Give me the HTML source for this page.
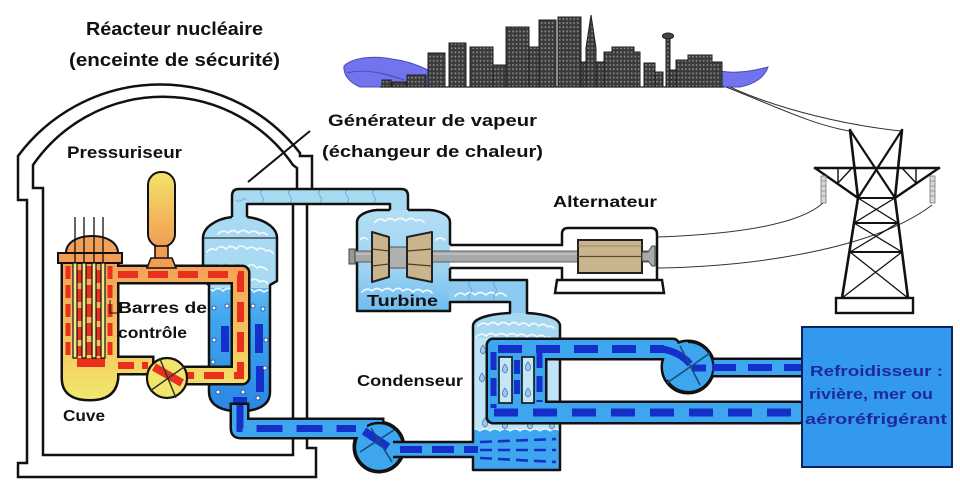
<!DOCTYPE html>
<html><head><meta charset="utf-8"><style>
html,body{margin:0;padding:0;background:#fff;overflow:hidden}
svg{display:block}
text{font-family:"Liberation Sans",sans-serif;font-weight:bold;fill:#111}
</style></head><body>
<svg width="960" height="496" viewBox="0 0 960 496" xmlns="http://www.w3.org/2000/svg">
<defs>
<pattern id="win" width="3.6" height="4.2" patternUnits="userSpaceOnUse">
<rect width="3.6" height="4.2" fill="#3a3a3a"/><rect x="1" y="1.1" width="1.5" height="1.8" fill="#8e8e8e"/>
</pattern>
<linearGradient id="gP" x1="0" y1="0" x2="0" y2="1"><stop offset="0" stop-color="#f2e468"/><stop offset="1" stop-color="#f29c54"/></linearGradient>
<linearGradient id="gL" gradientUnits="userSpaceOnUse" x1="0" y1="262" x2="0" y2="400"><stop offset="0" stop-color="#f3a058"/><stop offset="0.6" stop-color="#f4c860"/><stop offset="1" stop-color="#f2e86c"/></linearGradient>
<linearGradient id="gS" gradientUnits="userSpaceOnUse" x1="0" y1="288" x2="0" y2="412"><stop offset="0" stop-color="#62baf2"/><stop offset="0.25" stop-color="#40a6ee"/><stop offset="1" stop-color="#2a86e4"/></linearGradient>
<linearGradient id="gT" gradientUnits="userSpaceOnUse" x1="0" y1="210" x2="0" y2="312"><stop offset="0" stop-color="#b4def4"/><stop offset="0.6" stop-color="#9cd2f2"/><stop offset="1" stop-color="#6cbcf0"/></linearGradient>
<clipPath id="cSG"><path d="M232,217 C215,219 203,228 203,238 L203,281 L209,285 L209,392 Q209,408 232,411 L247,411 Q270,408 270,392 L270,285 L277,281 L277,238 C277,228 265,219 247,217 Z"/></clipPath>
<clipPath id="cC"><path d="M510,313 C490,314 473,318 473,326 L473,470 L560,470 L560,326 C560,318 545,314 527,313 Z"/></clipPath>
</defs>
<rect width="960" height="496" fill="#fff"/>

<!-- City -->
<path d="M344,66 C352,58 372,55 392,59 C408,61 420,66 428,70 L428,87 L360,87 C350,83 343,75 344,66 Z" fill="#7373ee" stroke="#4a4ab8" stroke-width="1"/>
<path d="M347,73 C362,69 382,72 404,80" fill="none" stroke="#4a4ab8" stroke-width="1"/>
<path d="M720,71 C736,74 752,71 768,67 C765,76 756,84 740,87 L720,87 Z" fill="#7373ee" stroke="#4a4ab8" stroke-width="1"/>
<g fill="url(#win)" stroke="#1e1e1e" stroke-width="1">
<rect x="382" y="80" width="9" height="7"/>
<rect x="392" y="82" width="14" height="5"/>
<rect x="407" y="75" width="19" height="12"/>
<rect x="428" y="53" width="17" height="34"/>
<rect x="449" y="43" width="17" height="44"/>
<rect x="470" y="47" width="23" height="40"/>
<rect x="493" y="65" width="13" height="22"/>
<rect x="506" y="27" width="23" height="60"/>
<rect x="529" y="47" width="10" height="40"/>
<rect x="539" y="20" width="17" height="67"/>
<rect x="558" y="17" width="23" height="70"/>
<rect x="581" y="62" width="5" height="25"/>
<path d="M586,87 L586,48 L591,15 L596,48 L596,87 Z"/>
<rect x="596" y="62" width="8" height="25"/>
<path d="M604,87 L604,52 L612,52 L612,47 L634,47 L634,52 L640,52 L640,87 Z"/>
<rect x="644" y="63" width="11" height="24"/>
<rect x="655" y="72" width="8" height="15"/>
<rect x="666" y="38" width="4" height="49"/>
<rect x="670" y="70" width="6" height="17"/>
<path d="M676,87 L676,60 L688,60 L688,55 L712,55 L712,62 L722,62 L722,87 Z"/>
</g>
<ellipse cx="668" cy="36" rx="5.5" ry="3" fill="#444" stroke="#1e1e1e" stroke-width="1"/>
<line x1="380" y1="87" x2="724" y2="87" stroke="#222" stroke-width="1.2"/>

<!-- Wires -->
<g fill="none" stroke="#333" stroke-width="1">
<path d="M726,87 C770,104 810,124 849,131"/>
<path d="M730,87 C780,110 850,126 902,131"/>
<path d="M658,237 C740,234 800,224 823,203"/>
<path d="M658,268 C770,266 880,245 932,205"/>
</g>

<!-- Tower -->
<g stroke="#111" fill="none" stroke-linecap="round">
<path d="M850,130 L858,198 L842,298 M902,130 L895,198 L908,298" stroke-width="2.6"/>
<path d="M850,130 L895,198 M902,130 L858,198" stroke-width="2.2"/>
<path d="M815,168 L939,168" stroke-width="2.6"/>
<path d="M815,168 L858,198 M939,168 L895,198" stroke-width="2.4"/>
<path d="M838,168 L838,183 M916,168 L916,183 M838,183 L852,168 M916,183 L902,168" stroke-width="1.4"/>
<path d="M858,198 L895,198 M854,223 L898,223 M850,252 L902,252" stroke-width="2"/>
<path d="M858,198 L898,223 M895,198 L854,223 M854,223 L902,252 M898,223 L850,252 M850,252 L908,298 M902,252 L842,298" stroke-width="1.3"/>
<rect x="836" y="298" width="77" height="15" stroke-width="2.4" fill="#fff"/>
</g>
<g fill="#d8d8d8" stroke="#777" stroke-width="0.8">
<rect x="821" y="176" width="5" height="27"/>
<rect x="930" y="176" width="5" height="27"/>
</g>
<g stroke="#888" stroke-width="0.7">
<path d="M821,181 H826 M821,186 H826 M821,191 H826 M821,196 H826 M930,181 H935 M930,186 H935 M930,191 H935 M930,196 H935"/>
</g>

<!-- Containment -->
<g fill="none" stroke="#111" stroke-width="2.5">
<path d="M312,188 L312,156 L300,156 L300,153 A177,177 0 0 0 18,156 L18,200 L27,200 L27,463 L18,463 L18,477 L316,477 L316,448 L307,448 L307,204"/>
<path d="M297,188 L297,168 L293,165 A158,158 0 0 0 33,165 L33,188 L43,188 L43,455 L293,455 L293,204"/>
</g>
<path d="M248,182 L310,131" stroke="#111" stroke-width="2" fill="none"/>

<!-- Steam system fills -->
<path d="M232,189 L408,189 L408,214 L390,214 L390,204 L247,204 L247,220 L232,220 Z" fill="#a8daf2"/>
<path d="M377,210 L430,210 C442,211 450,216 450,222 L450,311 L357,311 L357,222 C357,216 365,211 377,210 Z" fill="url(#gT)"/>
<path d="M449,280 L527,280 L527,316 L510,316 L510,302 L449,302 Z" fill="#8ccaf0"/>
<g clip-path="url(#cC)">
<rect x="470" y="305" width="95" height="170" fill="#c0e5f6"/>
<rect x="470" y="305" width="95" height="33" fill="#a6d8f2"/>
<path d="M470,431 q5,-4 10,0 q5,-4 10,0 q5,-4 10,0 q5,-4 10,0 q5,-4 10,0 q5,-4 10,0 q5,-4 10,0 q5,-4 10,0 q5,-4 10,0 q5,-4 10,0 L570,475 L470,475 Z" fill="#3ea6ee" stroke="#e6f6ff" stroke-width="1.2"/>
</g>
<g clip-path="url(#cSG)">
<rect x="200" y="210" width="80" height="80" fill="#a8daf2"/>
<rect x="200" y="288" width="80" height="130" fill="url(#gS)"/>
<path d="M203,292 q5,-5 10,-1 q5,-5 10,0 q5,-5 11,0 q5,-5 10,0 q5,-5 10,1 q5,-4 10,0 q5,-4 10,1" fill="none" stroke="#e8f6fd" stroke-width="1.6"/>
</g>
<line x1="203" y1="238" x2="277" y2="238" stroke="#333" stroke-width="1.3"/>

<!-- clouds -->
<g fill="none" stroke="#f2faff" stroke-width="1.6" stroke-linecap="round">
<path d="M218,234 q5,-5 10,-1 q5,-5 10,0 q5,-5 11,0 q5,-4 10,1 q4,-3 8,1"/>
<path d="M207,252 q4,-5 9,-2 q4,-6 10,-1 q5,-5 10,0 q5,-6 11,0 q5,-4 10,1 q4,-4 9,1 q3,-2 7,2"/>
<path d="M206,268 q5,-5 10,-1 q5,-5 10,0 q5,-5 11,0 q5,-5 10,0 q5,-5 10,1 q5,-3 10,2"/>
<path d="M209,282 q5,-5 10,-1 q5,-5 10,0 q5,-5 11,0 q5,-5 10,0 q5,-4 10,1 q4,-3 8,2"/>
<path d="M375,222 q5,-5 10,-1 q5,-5 10,0 q5,-5 11,0 q5,-5 10,0 q4,-3 8,1"/>
<path d="M360,240 q3,-4 7,-1"/>
<path d="M436,240 q4,-4 9,0"/>
<path d="M362,292 q5,-5 10,-1 q5,-5 10,0 q5,-5 11,0 q5,-5 10,0 q5,-4 10,1 q5,-5 10,0 q5,-4 9,1"/>
<path d="M455,296 q5,-5 10,-1 q5,-5 10,0 q5,-5 11,0 q5,-5 10,0 q5,-4 10,1"/>
<path d="M478,326 q5,-5 10,-1 q5,-5 10,0 q5,-5 11,0 q5,-5 10,0 q5,-4 10,1 q5,-5 10,0 q5,-4 9,1 q3,-2 6,1"/>
<path d="M476,337 q5,-5 10,-1 q5,-5 10,0 q5,-5 11,0 q5,-5 10,0 q5,-4 10,1 q5,-5 10,0 q5,-4 9,1 q3,-2 6,1"/>
</g>
<g fill="none" stroke="#6eaed8" stroke-width="1">
<path d="M262,190 q-3,3 0,6 q3,3 0,7"/>
<path d="M290,190 q-3,3 0,6 q3,3 0,7"/>
<path d="M320,190 q-3,3 0,6 q3,3 0,7"/>
<path d="M347,190 q-3,3 0,6 q3,3 0,7"/>
<path d="M374,190 q-3,3 0,6 q3,3 0,7"/>
<path d="M236,200 q3,3 6,0 q3,-3 4,0"/>
<path d="M470,281 q-3,3 0,6 q3,3 0,7 q-3,3 0,7"/>
<path d="M495,281 q-3,3 0,6 q3,3 0,7 q-3,3 0,7"/>
</g>

<!-- SG internals -->
<g fill="#1530c8">
<rect x="221" y="326" width="8" height="26"/>
<rect x="255" y="324" width="8" height="29"/>
<rect x="256" y="366" width="8" height="26"/>
<rect x="219" y="366" width="10" height="7"/>
<rect x="233" y="397" width="14" height="14"/>
</g>
<g fill="#fff" stroke="#1b3d80" stroke-width="0.8">
<circle cx="214" cy="308" r="2"/><circle cx="227" cy="306" r="2"/><circle cx="253" cy="306" r="2"/><circle cx="263" cy="309" r="2"/>
<circle cx="214" cy="340" r="2"/><circle cx="266" cy="340" r="2"/><circle cx="213" cy="362" r="2"/><circle cx="265" cy="368" r="2"/>
<circle cx="218" cy="392" r="2"/><circle cx="243" cy="392" r="2"/><circle cx="258" cy="398" r="2"/>
</g>

<!-- Condenser droplets -->
<g fill="#9cc8ee" stroke="#4a7ab8" stroke-width="0.8">
<path d="M483,345 C486,349 487,352 483,354 C479,352 480,349 483,345 Z"/>
<path d="M482,373 C485,377 486,380 482,382 C478,380 479,377 482,373 Z"/>
<path d="M549,342 C552,346 553,349 549,351 C545,349 546,346 549,342 Z"/>
<path d="M485,418 C488,422 489,425 485,427 C481,425 482,422 485,418 Z"/>
<path d="M505,420 C508,424 509,427 505,429 C501,427 502,424 505,420 Z"/>
<path d="M530,420 C533,424 534,427 530,429 C526,427 527,424 530,420 Z"/>
<path d="M552,420 C555,424 556,427 552,429 C548,427 549,424 552,420 Z"/>
</g>

<!-- Steam system outlines -->
<g fill="none" stroke="#111" stroke-width="2.5" stroke-linejoin="round">
<path d="M247,217 C265,219 277,228 277,238 L277,281 L270,285 L270,392 Q270,408 247,411 M232,411 Q209,408 209,392 L209,285 L203,281 L203,238 C203,228 215,219 232,217"/>
<path d="M232,217 L232,196 Q232,189 239,189 L401,189 Q408,189 408,196 L408,210 M247,217 L247,204 L390,204 L390,210"/>
<path d="M390,210 L377,210 C365,211 357,216 357,222 L357,311 L450,311 L450,302 L510,302 L510,313 C490,314 473,318 473,326 L473,470 L560,470 L560,326 C560,318 545,314 527,313 L527,280 L450,280 L450,268 M450,245 L450,222 C450,216 442,211 430,210 L408,210"/>
</g>

<!-- Alternator -->
<path d="M562,245 L562,234 Q562,228 568,228 L651,228 Q657,228 657,234 L657,280 L562,280 L562,268 Z" fill="#fff"/>
<g fill="none" stroke="#111" stroke-width="2.5">
<path d="M450,245 L562,245 L562,234 Q562,228 568,228 L651,228 Q657,228 657,234 L657,280 M450,268 L562,268 L562,280"/>
</g>
<path d="M557,280 L662,280 L664,293 L555,293 Z" fill="#fff" stroke="#111" stroke-width="2.5"/>
<rect x="350" y="251" width="300" height="11" fill="#a8a8a8" stroke="#555" stroke-width="0.9"/>
<line x1="352" y1="254" x2="648" y2="254" stroke="#cfcfcf" stroke-width="1"/>
<rect x="349" y="249" width="6" height="15" fill="#999" stroke="#444" stroke-width="1"/>
<rect x="578" y="240" width="64" height="33" fill="#c9b48e" stroke="#222" stroke-width="2"/>
<line x1="578" y1="256.5" x2="642" y2="256.5" stroke="#5a4a34" stroke-width="1.2"/>
<line x1="578" y1="246" x2="642" y2="246" stroke="#8a7856" stroke-width="0.8"/>
<path d="M642,252 L648,252 L652,246 L655,246 L655,266 L652,266 L648,261 L642,261 Z" fill="#aaa" stroke="#444" stroke-width="1"/>

<!-- Turbine blades -->
<rect x="388" y="247" width="20" height="21" fill="#b0b0b0" stroke="#555" stroke-width="1"/>
<g fill="#c9b48e" stroke="#222" stroke-width="2" stroke-linejoin="round">
<path d="M372,232 L389,237 L389,277 L372,282 Z"/>
<path d="M407,237 L432,232 L432,282 L407,277 Z"/>
</g>
<g stroke="#4a3c28" stroke-width="1.2">
<path d="M372,249 L389,251 M372,266 L389,264 M407,251 L432,249 M407,264 L432,266"/>
</g>

<!-- Reactor loop -->
<g fill="#111" stroke="#111" stroke-width="5">
<path d="M63,262 L117,262 L117,378 Q115,399 90,399 Q63,399 63,378 Z"/>
<rect x="110" y="267" width="138" height="15" rx="6"/>
<rect x="233" y="267" width="15" height="116" rx="6"/>
<rect x="180" y="368" width="68" height="15" rx="6"/>
<rect x="110" y="358" width="42" height="15"/>
</g>
<g fill="url(#gL)">
<path d="M63,262 L117,262 L117,378 Q115,399 90,399 Q63,399 63,378 Z"/>
<rect x="110" y="267" width="138" height="15" rx="6"/>
<rect x="233" y="267" width="15" height="116" rx="6"/>
<rect x="180" y="368" width="68" height="15" rx="6"/>
<rect x="110" y="358" width="42" height="15"/>
</g>
<g fill="none" stroke="#e8301c">
<path d="M118,274.5 L240.5,274.5 L240.5,375.5 L186,375.5" stroke-width="7" stroke-dasharray="20 10"/>
<path d="M118,365.5 L148,365.5" stroke-width="7" stroke-dasharray="16 8"/>
<path d="M68,266 V356 M79.5,270 V356 M89,266 V356 M98.5,270 V356 M110,266 V356" stroke-width="5" stroke-dasharray="13 6"/>
</g>
<rect x="77" y="358" width="28" height="9" fill="#e8301c"/>
<path d="M66,253 C66,242 78,236 92,236 C106,236 118,242 118,253" fill="#f3a05a" stroke="#111" stroke-width="2"/>
<rect x="58" y="253" width="64" height="10" fill="#f39c55" stroke="#111" stroke-width="2"/>
<g stroke="#111" stroke-width="1.3">
<path d="M75,217 V263 M84,217 V263 M94,217 V263 M103,217 V263"/>
</g>
<g fill="#f6e48e" stroke="#111" stroke-width="1.2">
<rect x="73" y="263" width="4" height="95"/>
<rect x="82" y="263" width="4" height="95"/>
<rect x="92" y="263" width="4" height="95"/>
<rect x="101" y="263" width="4" height="95"/>
</g>
<!-- pressurizer -->
<rect x="148" y="172" width="27" height="75" rx="13" fill="url(#gP)" stroke="#111" stroke-width="2"/>
<rect x="155" y="246" width="13" height="13" fill="#f29c54" stroke="#111" stroke-width="1.6"/>
<path d="M151,258 L172,258 L176,268 L147,268 Z" fill="#f29c54" stroke="#111" stroke-width="1.6"/>
<!-- reactor pump -->
<circle cx="167" cy="378" r="20" fill="#f2e66a" stroke="#111" stroke-width="2.2"/>
<path d="M154,367 L182,383" stroke="#e8301c" stroke-width="8"/>
<path d="M150,391 L184,367 M160,359 L176,398" stroke="#333" stroke-width="1.5"/>

<!-- Feedwater pipe -->
<g fill="#111" stroke="#111" stroke-width="5">
<path d="M232,405 L232,428 Q232,437 241,437 L382,437 L382,420 L247,420 L247,405 Z"/>
<circle cx="379" cy="447" r="24"/>
</g>
<g fill="#3ea6ee">
<path d="M232,405 L232,428 Q232,437 241,437 L382,437 L382,420 L247,420 L247,405 Z"/>
</g>
<circle cx="379" cy="447" r="24" fill="#3ea6ee" stroke="#111" stroke-width="2.4"/>
<rect x="393" y="442" width="85" height="15" fill="#3ea6ee"/>
<path d="M393,442 L474,442 M393,457 L474,457" stroke="#111" stroke-width="2.5"/>
<rect x="347" y="420" width="20" height="17" fill="#3ea6ee"/>
<g fill="none" stroke="#1530c8">
<path d="M240,405 L240,428.5 L356,428.5" stroke-width="7" stroke-dasharray="26 14"/>
<path d="M400,449.5 L478,449.5" stroke-width="7" stroke-dasharray="22 10"/>
<path d="M364,431 L388,447" stroke-width="8"/>
<path d="M480,442 L556,439 M480,450 L556,450 M480,458 L556,462" stroke-width="2.6" stroke-dasharray="12 6"/>
</g>
<path d="M360,452 L394,430 M371,428 L392,462" stroke="#1a4a80" stroke-width="1.6"/>

<!-- Cooling loop -->
<g fill="#111" stroke="#111" stroke-width="5">
<rect x="488" y="340" width="190" height="18" rx="5"/>
<circle cx="688" cy="367" r="25"/>
<rect x="700" y="360" width="104" height="15"/>
<rect x="488" y="403" width="316" height="19" rx="5"/>
<rect x="488" y="340" width="57" height="82" rx="6"/>
</g>
<g fill="#3ea6ee">
<rect x="488" y="340" width="190" height="18" rx="5"/>
<circle cx="688" cy="367" r="25"/>
<rect x="700" y="360" width="104" height="15"/>
<rect x="488" y="403" width="316" height="19" rx="5"/>
<rect x="488" y="340" width="57" height="82" rx="6"/>
</g>
<path d="M688,342 A25,25 0 1 1 667,380" fill="none" stroke="#111" stroke-width="2.2"/>
<g fill="none" stroke="#1530c8">
<path d="M498,349 L664,349" stroke-width="8" stroke-dasharray="24 14"/>
<path d="M712,367.5 L802,367.5" stroke-width="7" stroke-dasharray="24 12"/>
<path d="M494,412.5 L802,412.5" stroke-width="8" stroke-dasharray="24 15"/>
<path d="M493.5,352 L493.5,408" stroke-width="6" stroke-dasharray="18 8"/>
<path d="M517,360 L517,400" stroke-width="6" stroke-dasharray="14 6"/>
<path d="M539.5,352 L539.5,402" stroke-width="6" stroke-dasharray="16 8"/>
<path d="M662,349 Q680,352 690,364" stroke-width="7"/>
<path d="M692,368 L706,368" stroke-width="7"/>
</g>
<path d="M680,346 L700,385 M667,383 L710,353" stroke="#1a4a80" stroke-width="1.6"/>
<g fill="#c4e6f6" stroke="#111" stroke-width="1.6">
<rect x="499" y="357" width="13" height="46"/>
<rect x="522" y="357" width="12" height="46"/>
</g>
<g fill="#9cc8ee" stroke="#4a7ab8" stroke-width="0.8">
<path d="M505,364 C508,368 509,371 505,373 C501,371 502,368 505,364 Z"/>
<path d="M528,362 C531,366 532,369 528,371 C524,369 525,366 528,362 Z"/>
<path d="M528,388 C531,392 532,395 528,397 C524,395 525,392 528,388 Z"/>
<path d="M505,388 C508,392 509,395 505,397 C501,395 502,392 505,388 Z"/>
</g>

<!-- Cooling box -->
<rect x="802" y="327" width="150" height="140" fill="#3399ee" stroke="#0f1f5a" stroke-width="2"/>
<g style="fill:#1c2a9e" font-size="15">
<text x="810" y="376" textLength="133" lengthAdjust="spacingAndGlyphs" style="fill:#1c2a9e">Refroidisseur :</text>
<text x="809" y="399" textLength="124" lengthAdjust="spacingAndGlyphs" style="fill:#1c2a9e">rivière, mer ou</text>
<text x="805" y="424" textLength="142" lengthAdjust="spacingAndGlyphs" style="fill:#1c2a9e">aéroréfrigérant</text>
</g>

<!-- Barres leader -->
<path d="M110,300 L110,313 L117,313" fill="none" stroke="#111" stroke-width="1"/>

<!-- Labels -->
<text x="86" y="35" font-size="18" textLength="177" lengthAdjust="spacingAndGlyphs">Réacteur nucléaire</text>
<text x="69" y="66" font-size="18" textLength="211" lengthAdjust="spacingAndGlyphs">(enceinte de sécurité)</text>
<text x="67" y="158" font-size="17" textLength="115" lengthAdjust="spacingAndGlyphs">Pressuriseur</text>
<text x="328" y="126" font-size="17" textLength="209" lengthAdjust="spacingAndGlyphs">Générateur de vapeur</text>
<text x="322" y="157" font-size="17" textLength="221" lengthAdjust="spacingAndGlyphs">(échangeur de chaleur)</text>
<text x="553" y="207" font-size="16" textLength="104" lengthAdjust="spacingAndGlyphs">Alternateur</text>
<text x="367" y="306" font-size="16" textLength="71" lengthAdjust="spacingAndGlyphs">Turbine</text>
<text x="357" y="386" font-size="16" textLength="106" lengthAdjust="spacingAndGlyphs">Condenseur</text>
<text x="118" y="313" font-size="16" textLength="89" lengthAdjust="spacingAndGlyphs">Barres de</text>
<text x="118" y="338" font-size="16" textLength="69" lengthAdjust="spacingAndGlyphs">contrôle</text>
<text x="63" y="421" font-size="16" textLength="42" lengthAdjust="spacingAndGlyphs">Cuve</text>
</svg>
</body></html>
